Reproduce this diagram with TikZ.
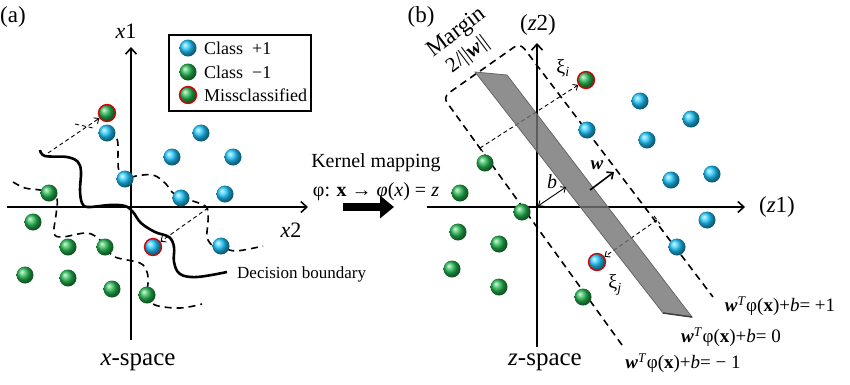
\documentclass[tikz,border=0pt]{standalone}
\usepackage{fontspec}
\setmainfont{Liberation Serif}
\usetikzlibrary{arrows.meta,calc}
\definecolor{cblue}{RGB}{30,200,255}
\definecolor{cgreen}{RGB}{35,185,80}
\newcommand{\myfs}[1]{\fontsize{#1}{#1}\selectfont}
\tikzset{
  bb/.style={circle,inner sep=0pt,minimum size=17pt,shading=ball,ball color=cblue},
  gb/.style={circle,inner sep=0pt,minimum size=17pt,shading=ball,ball color=cgreen},
  mis/.style={draw=red!85!black,line width=1.3pt},
  axis/.style={line width=1.6pt,-{Straight Barb[length=6pt,width=11pt,line width=1.6pt]}},
  bnd/.style={line width=1.6pt,dash pattern=on 7pt off 5pt},
  thind/.style={line width=0.9pt,dash pattern=on 4pt off 3pt},
  solidc/.style={line width=2.6pt},
  lbl/.style={inner sep=0pt},
}
\begin{document}
\begin{tikzpicture}[x=1pt,y=-1pt]
\path[use as bounding box,fill=white] (0,0) rectangle (850,384);

% ---------------- left panel ----------------
\node[lbl,font=\myfs{23}] (la) at (13,17) {(a)};
\coordinate (x1b) at (131,340);
\coordinate (x1t) at (131,47);
\coordinate (x2l) at (7,207);
\coordinate (x2r) at (308,207);
\draw[axis] (x1b) -- (x1t);
\draw[axis] (x2l) -- (x2r);
\node[lbl,font=\myfs{22}] (lx1) at (126,31) {\textit{x}1};
\node[lbl,font=\myfs{22}] (lx2) at (291,230) {\textit{x}2};
\node[lbl,font=\myfs{25}] (lxs) at (138,362) {\textit{x}-space};

% dashed boundaries
\draw[bnd] plot[smooth,tension=0.6] coordinates {(13,182) (25,188) (40,190) (49,193) (57,199) (56,215) (54,233) (62,237) (87,233) (100,240) (105,247) (115,257) (140,263) (147,272) (148,283) (147,295) (155,305) (180,308) (202,304)};
\draw[bnd] plot[smooth,tension=0.6] coordinates {(107,133) (117,139) (118,160) (119,172) (125,179) (136,176) (153,175) (165,183) (172,192) (181,198) (196,202) (207,208) (208,222) (207,237) (213,246) (221,246) (235,251) (263,246)};

% solid decision boundary
\draw[solidc] plot[smooth,tension=0.6] coordinates {(40,150) (45,156) (67,157) (78,162) (81,172) (80,190) (82,203) (88,207) (110,205) (125,206) (133,212) (141,223) (155,232) (169,237) (174,247) (174,262) (180,274) (197,277) (227,272)};
\node[lbl,font=\myfs{17},anchor=west] (ldb) at (237,274) {Decision boundary};

% balls
\node[bb] (p1) at (107,133) {};
\node[bb] (p2) at (201,133) {};
\node[bb] (p3) at (172,157) {};
\node[bb] (p4) at (233,157) {};
\node[bb] (p5) at (125,179) {};
\node[bb] (p6) at (181,198) {};
\node[bb] (p7) at (225,194) {};
\node[bb] (p8) at (221,246) {};
\node[gb,mis] (m1) at (107,113) {};
\node[bb,mis] (m2) at (153,247) {};
\node[gb] (n1) at (49,193) {};
\node[gb] (n2) at (33,222) {};
\node[gb] (n3) at (68,247) {};
\node[gb] (n4) at (105,247) {};
\node[gb] (n5) at (25,275) {};
\node[gb] (n6) at (68,278) {};
\node[gb] (n7) at (112,289) {};
\node[gb] (n8) at (147,295) {};

% dashed arrows
\coordinate (da1) at (48,153);
\coordinate (da2) at (75,124);
\coordinate (da3) at (93,128);
\coordinate (db1) at (208,208);
\draw[thind,-{Straight Barb[length=4pt,width=7pt]}] (da1) -- (m1);
\draw[thind] (da2) -- (da3);
\draw[thind,-{Straight Barb[length=4pt,width=7pt]}] (db1) -- (m2);

% legend
\node[draw,line width=2pt,minimum width=142pt,minimum height=76pt,inner sep=0pt] (leg) at (240,73) {};
\node[bb] (lg1) at (188,48) {};
\node[gb] (lg2) at (188,72) {};
\node[gb,mis] (lg3) at (188,95) {};
\node[lbl,font=\myfs{18},anchor=west] (lt1) at (204,48) {Class\ \ +1};
\node[lbl,font=\myfs{18},anchor=west] (lt2) at (204,72) {Class\ \ −1};
\node[lbl,font=\myfs{18},anchor=west] (lt3) at (204,95) {Missclassified};

% ---------------- kernel mapping ----------------
\node[lbl,font=\myfs{20}] (km1) at (376,163) {Kernel mapping};
\node[lbl,font=\myfs{20}] (km2) at (376,192) {φ: \textbf{x} → \textit{φ}(\textit{x}) = \textit{z}};
\coordinate (ka) at (343,207);
\coordinate (kb) at (394,207);
\draw[line width=8pt,-{Triangle[length=14pt,width=22pt]}] (ka) -- (kb);

% ---------------- right panel ----------------
\node[lbl,font=\myfs{23}] (lb) at (421,17) {(b)};
\coordinate (z2b) at (537,347);
\coordinate (z2t) at (537,43);
\coordinate (z1l) at (427,207);
\coordinate (z1r) at (745,207);
\draw[axis] (z2b) -- (z2t);
\draw[axis] (z1l) -- (z1r);
\node[lbl,font=\myfs{23}] (lz2) at (538,25) {(\textit{z}2)};
\node[lbl,font=\myfs{23}] (lz1) at (777,207) {(\textit{z}1)};
\node[lbl,font=\myfs{25}] (lzs) at (545,362) {\textit{z}-space};

% margin dashed frame
\coordinate (mlb) at (622,345);
\coordinate (mlt) at (443,97);
\coordinate (mrt) at (520,43);
\coordinate (mrb) at (713,297);
\draw[bnd,rounded corners=7pt] (mlb) -- (mlt) -- (mrt) -- (mrb);
\node[lbl,font=\myfs{23},rotate=37] (lmar) at (457,33) {Margin};
\node[lbl,font=\myfs{21},rotate=37] (lmw) at (468,55) {2/||\textbf{\textit{w}}||};

% perpendicular dashed
\coordinate (xi1) at (480,148);
\coordinate (xj1) at (657,220);
\draw[thind] ($(xi1)+(-3,-4)$) -- ($(xi1)+(3,4)$);
\draw[thind] ($(xj1)+(-3,-4)$) -- ($(xj1)+(3,4)$);

% balls right
\node[gb] (r1) at (485,163) {};
\node[gb] (r2) at (460,193) {};
\node[gb] (r3) at (522,212) {};
\node[gb] (r4) at (458,232) {};
\node[gb] (r5) at (499,244) {};
\node[gb] (r6) at (452,269) {};
\node[gb] (r7) at (499,287) {};
\node[gb] (r8) at (583,297) {};
\node[gb,mis] (rm1) at (586,80) {};
\node[bb] (s1) at (640,101) {};
\node[bb] (s2) at (691,119) {};
\node[bb] (s3) at (587,130) {};
\node[bb] (s4) at (647,140) {};
\node[bb] (s5) at (671,180) {};
\node[bb] (s6) at (712,174) {};
\node[bb] (s7) at (707,220) {};
\node[bb] (s8) at (677,247) {};
\node[bb,mis] (rm2) at (597,262) {};

\draw[thind,-{Straight Barb[length=4pt,width=7pt]}] (xi1) -- (rm1);
\draw[thind,-{Straight Barb[length=4pt,width=7pt]}] (xj1) -- (rm2);
\node[lbl,font=\myfs{20}] (lxi) at (563,68) {ξ\textsubscript{\textit{i}}};
\node[lbl,font=\myfs{20}] (lxj) at (615,285) {ξ\textsubscript{\textit{j}}};

% band (hyperplane)
\coordinate (h1) at (475,72);
\coordinate (h2) at (507,75);
\coordinate (h3) at (692,317);
\coordinate (h4) at (663,313);
\fill[black!55,fill opacity=0.8] (h1) -- (h2) -- (h3) -- (h4) -- cycle;
\draw[black!60,line width=0.8pt] (h1) -- (h2) -- (h3) -- (h4) -- cycle;
\draw[black!75,line width=1.5pt] (h4) -- (h3);

% w and b
\coordinate (wa) at (590,190);
\coordinate (wb) at (614,172);
\draw[line width=1.6pt,-{Straight Barb[length=5pt,width=9pt,line width=1.6pt]}] (wa) -- (wb);
\node[lbl,font=\myfs{19}] (lw) at (597,165) {\textbf{\textit{w}}};
\coordinate (ba) at (538,206);
\coordinate (bb2) at (566,187);
\draw[line width=0.9pt,{Straight Barb[length=4pt,width=7pt]}-{Straight Barb[length=4pt,width=7pt]}] (ba) -- (bb2);
\node[lbl,font=\myfs{20}] (lbb) at (552,182) {\textit{b}};

% hyperplane labels
\node[lbl,font=\myfs{19}] (e1) at (780,306) {\textbf{\textit{w}}\textsuperscript{\textit{T}}φ(\textbf{x})+\textit{b}= +1};
\node[lbl,font=\myfs{19}] (e2) at (731,337) {\textbf{\textit{w}}\textsuperscript{\textit{T}}φ(\textbf{x})+\textit{b}= 0};
\node[lbl,font=\myfs{19}] (e3) at (683,363) {\textbf{\textit{w}}\textsuperscript{\textit{T}}φ(\textbf{x})+\textit{b}= − 1};
\end{tikzpicture}
\end{document}
